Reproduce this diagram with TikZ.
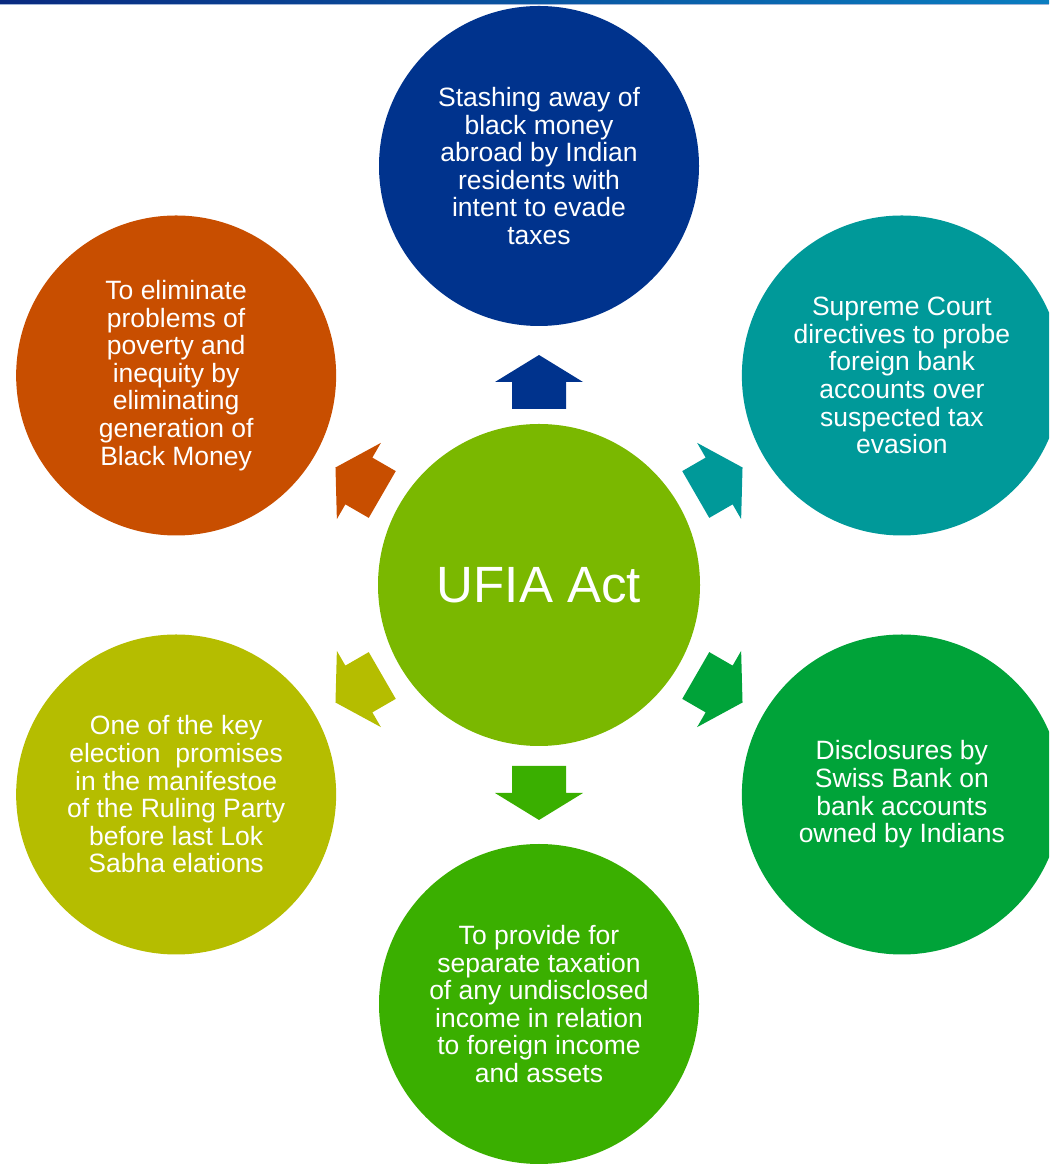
\documentclass[tikz,border=0pt]{standalone}
\usepackage{fontspec}
\setmainfont{Liberation Sans}
\definecolor{barleft}{RGB}{10,42,128}
\definecolor{barright}{RGB}{10,125,192}
\definecolor{barline}{RGB}{160,180,215}
\definecolor{ufiagreen}{RGB}{122,184,0}
\definecolor{stashblue}{RGB}{0,51,141}
\definecolor{courtteal}{RGB}{0,153,153}
\definecolor{swissgreen}{RGB}{0,163,57}
\definecolor{taxgreen}{RGB}{58,175,0}
\definecolor{promiseolive}{RGB}{181,189,0}
\definecolor{povertyorange}{RGB}{200,78,0}

\begin{document}
\begin{tikzpicture}[x=1pt,y=1pt,
  bubble/.style={circle,minimum size=320pt,inner sep=0pt,text=white,align=center,
    font=\fontsize{26.5}{27.6}\selectfont}]
\clip (0,0) rectangle (1049,1166);
%top bar
\shade[left color=barleft,right color=barright] (0,1162) rectangle (1049,1166);
\fill[barline] (0,1161) rectangle (1049,1162);
%centre circle
\node[bubble,minimum size=322pt,fill=ufiagreen,font=\fontsize{51}{56}\selectfont] (ufia) at (539,581) {UFIA Act};
%outer circles
\node[bubble,fill=stashblue] (stash) at ([shift={(90:419)}]ufia.center)
  {Stashing away of\\black money\\abroad by Indian\\residents with\\intent to evade\\taxes};
\node[bubble,fill=courtteal] (court) at ([shift={(30:419)}]ufia.center)
  {Supreme Court\\directives to probe\\foreign bank\\accounts over\\suspected tax\\evasion};
\node[bubble,fill=swissgreen] (swiss) at ([shift={(-30:419)}]ufia.center)
  {Disclosures by\\Swiss Bank on\\bank accounts\\owned by Indians};
\node[bubble,fill=taxgreen] (taxation) at ([shift={(-90:419)}]ufia.center)
  {To provide for\\separate taxation\\of any undisclosed\\income in relation\\to foreign income\\and assets};
\node[bubble,fill=promiseolive] (promise) at ([shift={(210:419)}]ufia.center)
  {One of the key\\election\ \ promises\\in the manifestoe\\of the Ruling Party\\before last Lok\\Sabha elations};
\node[bubble,fill=povertyorange] (poverty) at ([shift={(150:419)}]ufia.center)
  {To eliminate\\problems of\\poverty and\\inequity by\\eliminating\\generation of\\Black Money};
%block arrows
\foreach \ang/\dist/\col in {90/203/stashblue, 30/208/courtteal, -30/208/swissgreen,
    -90/208/taxgreen, 210/208/promiseolive, 150/208/povertyorange}
  \fill[\col,shift={(ufia.center)},rotate=\ang,xshift=\dist pt]
    (-27,-27) -- (0,-27) -- (0,-44) -- (27,0) -- (0,44) -- (0,27) -- (-27,27) -- cycle;
\end{tikzpicture}
\end{document}
